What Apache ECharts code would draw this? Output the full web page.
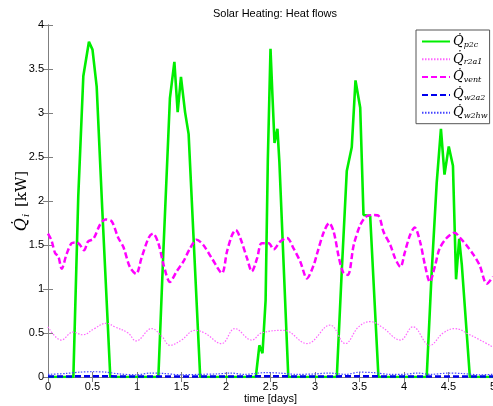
<!DOCTYPE html>
<html>
<head>
<meta charset="utf-8">
<script src="https://cdn.jsdelivr.net/npm/echarts@6/dist/echarts.min.js"></script>
<style>html,body{margin:0;padding:0;background:#fff;overflow:hidden;}#c{width:493px;height:406px;}</style>
</head>
<body>
<div id="c"></div>
<script>
// time [days] and heat flows [kW]
const tP2c = [0, 0.285, 0.34, 0.397, 0.46, 0.50, 0.547, 0.61, 0.70, 1.24, 1.296, 1.37, 1.42, 1.457, 1.494, 1.54, 1.58, 1.71, 2.335, 2.375, 2.41, 2.445, 2.47, 2.50, 2.52, 2.545, 2.578, 2.60, 2.70, 3.245, 3.30, 3.357, 3.413, 3.455, 3.508, 3.545, 3.62, 3.713, 4.255, 4.31, 4.367, 4.415, 4.455, 4.503, 4.55, 4.585, 4.62, 4.65, 4.74, 5];
const qP2c = [0, 0, 2.05, 3.42, 3.81, 3.72, 3.30, 1.9, 0, 0, 1.42, 3.17, 3.58, 3.01, 3.41, 3.01, 2.76, 0, 0, 0.36, 0.27, 0.87, 2.47, 3.73, 3.24, 2.66, 2.82, 2.44, 0, 0, 1.19, 2.34, 2.61, 3.37, 3.06, 1.84, 1.83, 0, 0, 1.17, 2.2, 2.82, 2.3, 2.62, 2.4, 1.11, 1.57, 1.27, 0, 0];

const tVent = [0, 0.04, 0.079, 0.116, 0.154, 0.21, 0.266, 0.32, 0.36, 0.405, 0.45, 0.51, 0.584, 0.645, 0.715, 0.79, 0.846, 0.92, 0.99, 1.05, 1.13, 1.18, 1.24, 1.30, 1.37, 1.446, 1.52, 1.595, 1.67, 1.745, 1.84, 1.955, 2.01, 2.067, 2.11, 2.16, 2.236, 2.29, 2.35, 2.40, 2.48, 2.535, 2.61, 2.685, 2.76, 2.835, 2.91, 2.985, 3.02, 3.10, 3.16, 3.21, 3.27, 3.32, 3.37, 3.435, 3.51, 3.585, 3.66, 3.716, 3.77, 3.846, 3.90, 3.96, 4.01, 4.067, 4.12, 4.18, 4.236, 4.29, 4.35, 4.40, 4.48, 4.57, 4.63, 4.70, 4.78, 4.85, 4.93, 5.0];
const qVent = [1.63, 1.55, 1.41, 1.37, 1.23, 1.40, 1.52, 1.53, 1.50, 1.44, 1.54, 1.57, 1.73, 1.79, 1.77, 1.58, 1.48, 1.25, 1.17, 1.35, 1.58, 1.63, 1.52, 1.27, 1.08, 1.20, 1.31, 1.46, 1.56, 1.50, 1.35, 1.18, 1.42, 1.61, 1.67, 1.58, 1.35, 1.20, 1.35, 1.52, 1.52, 1.45, 1.54, 1.58, 1.46, 1.31, 1.12, 1.27, 1.39, 1.65, 1.75, 1.65, 1.35, 1.18, 1.16, 1.50, 1.73, 1.83, 1.84, 1.83, 1.65, 1.50, 1.35, 1.25, 1.42, 1.61, 1.70, 1.54, 1.27, 1.08, 1.27, 1.46, 1.58, 1.64, 1.58, 1.50, 1.39, 1.27, 1.06, 1.14];

const tR2a1 = [0, 0.15, 0.28, 0.39, 0.52, 0.655, 0.75, 0.90, 0.99, 1.165, 1.28, 1.37, 1.50, 1.65, 1.76, 1.95, 2.10, 2.29, 2.40, 2.65, 2.91, 3.17, 3.34, 3.49, 3.62, 3.75, 3.96, 4.10, 4.29, 4.44, 4.57, 4.74, 5.0];
const qR2a1 = [0.57, 0.42, 0.51, 0.48, 0.55, 0.61, 0.57, 0.50, 0.41, 0.55, 0.46, 0.36, 0.42, 0.53, 0.50, 0.38, 0.55, 0.42, 0.50, 0.53, 0.38, 0.59, 0.38, 0.57, 0.63, 0.57, 0.42, 0.57, 0.36, 0.50, 0.55, 0.48, 0.34];

const tW2a2 = [0, 0.5, 1, 1.5, 2, 2.5, 3, 3.5, 4, 4.5, 5];
const qW2a2 = [0.006, 0.008, 0.006, 0.007, 0.006, 0.008, 0.006, 0.008, 0.006, 0.007, 0.006];

const tW2hw = [0, 0.2, 0.35, 0.5, 0.65, 0.8, 1.0, 1.15, 1.3, 1.5, 1.7, 1.9, 2.05, 2.2, 2.45, 2.6, 2.8, 3.0, 3.15, 3.35, 3.5, 3.65, 3.85, 4.0, 4.15, 4.3, 4.5, 4.65, 4.85, 5.0];
const qW2hw = [0.03, 0.04, 0.055, 0.06, 0.055, 0.035, 0.025, 0.045, 0.04, 0.025, 0.03, 0.035, 0.045, 0.03, 0.05, 0.045, 0.03, 0.035, 0.045, 0.03, 0.055, 0.05, 0.03, 0.03, 0.045, 0.03, 0.045, 0.04, 0.025, 0.03];

const seriesNames = ['p2c', 'r2a1', 'vent', 'w2a2', 'w2hw'];
const xTicks = {min: 0, max: 5, interval: 0.5};
const yTicks = {min: 0, max: 4, interval: 0.5};

function pairs(t, q) { return t.map((x, i) => [x, q[i]]); }

const axisGrey = '#7f7f7f';
const chart = echarts.init(document.getElementById('c'), null, {renderer: 'canvas'});
const baseX = {
  type: 'value', min: xTicks.min, max: xTicks.max, interval: xTicks.interval,
  axisLine: {show: true, lineStyle: {color: axisGrey, width: 1}},
  axisTick: {show: true, inside: true, length: 5, lineStyle: {color: axisGrey}},
  splitLine: {show: false}
};
const baseY = {
  type: 'value', min: yTicks.min, max: yTicks.max, interval: yTicks.interval,
  axisLine: {show: true, lineStyle: {color: axisGrey, width: 1}},
  axisTick: {show: true, inside: true, length: 5, lineStyle: {color: axisGrey}},
  splitLine: {show: false}
};
const lblFont = {color: '#000', fontSize: 11, fontFamily: 'Liberation Sans, Arial, sans-serif'};

chart.setOption({
  animation: false,
  backgroundColor: '#fff',
  title: {
    text: 'Solar Heating: Heat flows', left: 270, top: 3, textAlign: 'center',
    textStyle: {fontSize: 11, fontWeight: 'normal', color: '#000', fontFamily: 'Liberation Sans, Arial, sans-serif'}
  },
  grid: {left: 48, right: 0, top: 25, bottom: 29, containLabel: false, outerBoundsMode: 'none'},
  xAxis: [
    Object.assign({}, baseX, {
      position: 'bottom',
      axisLabel: Object.assign({margin: 4, formatter: v => String(v)}, lblFont),
      name: 'time [days]', nameLocation: 'middle', nameGap: 16, nameMoveOverlap: false,
      nameTextStyle: Object.assign({verticalAlign: 'top'}, lblFont)
    }),
    Object.assign({}, baseX, {position: 'top', axisLabel: {show: false}})
  ],
  yAxis: [
    Object.assign({}, baseY, {
      position: 'left',
      axisLabel: Object.assign({margin: 4, formatter: v => String(v)}, lblFont),
      name: '{q|Q\u0307}{s|i}{u| [kW]}', nameLocation: 'middle', nameGap: 17, nameRotate: 90, nameMoveOverlap: false,
      nameTextStyle: {
        color: '#000', verticalAlign: 'bottom',
        rich: {
          q: {fontSize: 16, fontStyle: 'italic', fontFamily: 'DejaVu Serif, serif', color: '#000', lineHeight: 18},
          s: {fontSize: 10, fontStyle: 'italic', fontFamily: 'DejaVu Serif, serif', color: '#000', verticalAlign: 'bottom', lineHeight: 18, padding: [6, 2, 0, 1]},
          u: {fontSize: 15, fontFamily: 'DejaVu Serif, serif', color: '#000', lineHeight: 18}
        }
      }
    }),
    Object.assign({}, baseY, {position: 'right', axisLabel: {show: false}})
  ],
  legend: {
    orient: 'vertical', left: 416, top: 30,
    backgroundColor: '#fff', borderColor: '#555', borderWidth: 1,
    padding: [5, 2, 4, 5], itemWidth: 28, itemHeight: 12, itemGap: 4.3,
    itemStyle: {opacity: 0},
    data: seriesNames,
    formatter: n => '{q|Q\u0307}{s|' + n + '}',
    textStyle: {
      color: '#000', padding: [0, 0, 0, -2],
      rich: {
        q: {fontSize: 13, fontStyle: 'italic', fontFamily: 'DejaVu Serif, serif', color: '#000', lineHeight: 14},
        s: {fontSize: 8, fontStyle: 'italic', fontFamily: 'DejaVu Serif, serif', color: '#000', verticalAlign: 'bottom', lineHeight: 14, padding: [5, 0, 0, 0]}
      }
    }
  },
  series: [
    {name: 'p2c', type: 'line', data: pairs(tP2c, qP2c), showSymbol: false, symbol: 'none',
      lineStyle: {color: '#00ee00', width: 2.6}, itemStyle: {color: '#00ee00'}},
    {name: 'r2a1', type: 'line', data: pairs(tR2a1, qR2a1), showSymbol: false, symbol: 'none', smooth: 0.4,
      lineStyle: {color: '#ff66ff', width: 1.2, type: [1.5, 1.5]}, itemStyle: {color: '#ff66ff'}},
    {name: 'vent', type: 'line', data: pairs(tVent, qVent), showSymbol: false, symbol: 'none', smooth: 0.3,
      lineStyle: {color: '#ff00ff', width: 2.5, type: [6, 3]}, itemStyle: {color: '#ff00ff'}},
    {name: 'w2a2', type: 'line', data: pairs(tW2a2, qW2a2), showSymbol: false, symbol: 'none',
      lineStyle: {color: '#0000ee', width: 2.5, type: [6, 3]}, itemStyle: {color: '#0000ee'}},
    {name: 'w2hw', type: 'line', data: pairs(tW2hw, qW2hw), showSymbol: false, symbol: 'none', smooth: 0.3,
      lineStyle: {color: '#4444ff', width: 1.2, type: [1.5, 1.5]}, itemStyle: {color: '#4444ff'}}
  ]
});
</script>
</body>
</html>
